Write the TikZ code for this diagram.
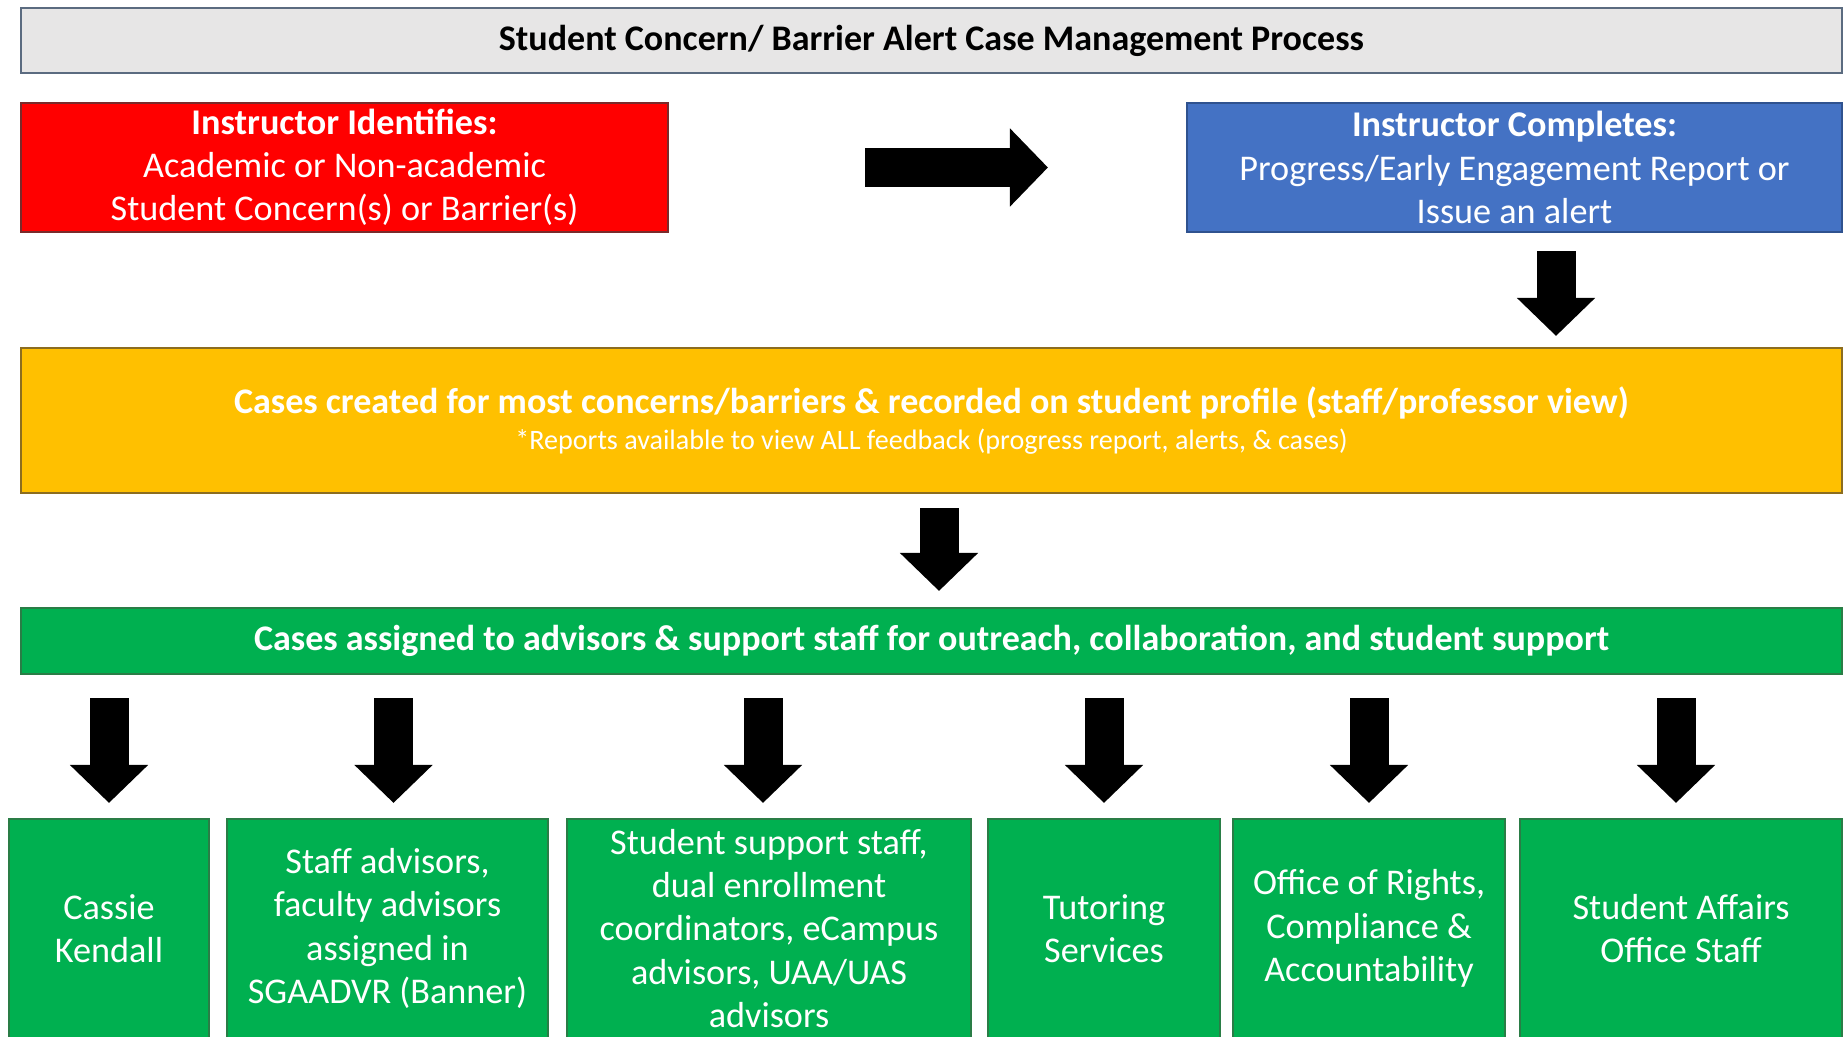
\documentclass[tikz,border=0pt]{standalone}
\usepackage{fontspec}
\setmainfont{Carlito}
\usetikzlibrary{arrows.meta}
\definecolor{hdrfill}{HTML}{E7E6E6}
\definecolor{hdrline}{HTML}{5B6B80}
\definecolor{alertred}{HTML}{FF0000}
\definecolor{alertline}{HTML}{7A2A2A}
\definecolor{reportblue}{HTML}{4472C4}
\definecolor{reportline}{HTML}{2F528F}
\definecolor{caseyellow}{HTML}{FFC000}
\definecolor{caseline}{HTML}{8C6D1F}
\definecolor{staffgreen}{HTML}{00B050}
\definecolor{staffline}{HTML}{2A7D46}

\begin{document}
\begin{tikzpicture}[
    box/.style={draw, line width=0.6pt, align=center, text=white, inner sep=0pt,
                font=\fontsize{10.3}{12.3}\selectfont},
    headbox/.style={box, fill=hdrfill, draw=hdrline, text=black,
                    font=\bfseries\fontsize{10.25}{12.3}\selectfont},
    alertbox/.style={box, fill=alertred, draw=alertline},
    reportbox/.style={box, fill=reportblue, draw=reportline},
    casebox/.style={box, fill=caseyellow, draw=caseline},
    staffbox/.style={box, fill=staffgreen, draw=staffline},
    blockarr/.style={-{Triangle[width=0.76cm,length=0.38cm]}, line width=0.39cm}
  ]
    \useasboundingbox (0,0) rectangle (18.48,-10.37);

    \node[headbox, minimum width=18.21cm, minimum height=0.65cm] (title) at (9.315,-0.405)
      {\raisebox{-1pt}{Student Concern/ Barrier Alert Case Management Process}};

    \node[alertbox, minimum width=6.47cm, minimum height=1.29cm] (identify) at (3.445,-1.675)
      {\textbf{Instructor Identifies:}\\Academic or Non-academic\\Student Concern(s) or Barrier(s)};
    \node[reportbox, minimum width=6.55cm, minimum height=1.29cm] (complete) at (15.145,-1.675)
      {\textbf{Instructor Completes:}\\Progress/Early Engagement Report or\\Issue an alert};

    \node[casebox, minimum width=18.21cm, minimum height=1.45cm] (created) at (9.315,-4.205)
      {\textbf{\fontsize{10.25}{12.3}\selectfont Cases created for most concerns/barriers \& recorded on student profile (staff/professor view)}\\[-2.3pt]
       {\fontsize{8}{9}\selectfont *Reports available to view ALL feedback (progress report, alerts, \& cases)}};

    \node[staffbox, minimum width=18.21cm, minimum height=0.66cm] (assigned) at (9.315,-6.41)
      {\textbf{\fontsize{10.25}{12.3}\selectfont Cases assigned to advisors \& support staff for outreach, collaboration, and student support}};

    \node[staffbox, minimum width=2.00cm, minimum height=2.19cm] (kendall)  at (1.09,-9.285)
      {Cassie\\Kendall};
    \node[staffbox, minimum width=3.21cm, minimum height=2.19cm] (advisors) at (3.875,-9.285)
      {Staff advisors,\\faculty advisors\\assigned in\\SGAADVR (Banner)};
    \node[staffbox, minimum width=4.04cm, minimum height=2.19cm] (support)  at (7.69,-9.285)
      {Student support staff,\\dual enrollment\\coordinators, eCampus\\advisors, UAA/UAS\\advisors};
    \node[staffbox, minimum width=2.32cm, minimum height=2.19cm] (tutoring) at (11.04,-9.285)
      {Tutoring\\Services};
    \node[staffbox, minimum width=2.72cm, minimum height=2.19cm] (rights)   at (13.69,-9.285)
      {Office of Rights,\\Compliance \&\\Accountability};
    \node[staffbox, minimum width=3.22cm, minimum height=2.19cm] (affairs)  at (16.81,-9.285)
      {Student Affairs\\Office Staff};

    \draw[blockarr, shorten <=1.96cm, shorten >=1.38cm] (identify.east) -- (complete.west);
    \draw[blockarr, shorten <=0.18cm, shorten >=0.11cm]
      ([xshift=0.415cm]complete.south) -- ([xshift=0.415cm]complete.south |- created.north);
    \draw[blockarr, shorten <=0.14cm, shorten >=0.16cm]
      ([xshift=0.075cm]created.south) -- ([xshift=0.075cm]created.south |- assigned.north);
    \foreach \unit/\dx in {kendall/0, advisors/0.06, support/-0.06, tutoring/0, rights/0, affairs/-0.05}
      \draw[blockarr, shorten <=0.23cm, shorten >=0.15cm]
        ([xshift=\dx cm]\unit.north |- assigned.south) -- ([xshift=\dx cm]\unit.north);
  \end{tikzpicture}
\end{document}
